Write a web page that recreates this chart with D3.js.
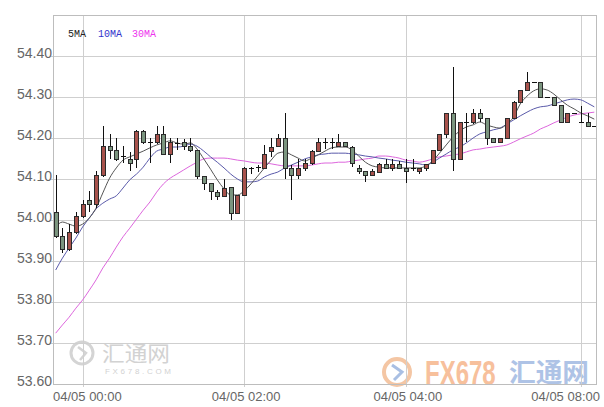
<!DOCTYPE html>
<html><head><meta charset="utf-8">
<script src="https://cdn.jsdelivr.net/npm/d3@7"></script>
<style>body{margin:0;background:#fff}svg{display:block}</style>
</head><body>
<svg id="c" width="604" height="407"></svg>
<script>
// ---- data ----
const openVals = [54.02,53.96,53.93,53.97,54.01,54.05,54.04,54.11,54.18,54.17,
54.155,54.148,54.148,54.218,54.19,54.19,54.21,54.16,54.187,54.19,
54.18,54.17,54.108,54.09,54.069,54.059,54.08,54.018,54.061,54.127,
54.13,54.128,54.169,54.18,54.199,54.128,54.109,54.128,54.138,54.169,
54.19,54.19,54.18,54.19,54.179,54.128,54.12,54.11,54.118,54.137,
54.128,54.137,54.128,54.128,54.12,54.128,54.138,54.171,54.21,54.26,
54.149,54.238,54.238,54.26,54.248,54.20,54.191,54.20,54.248,54.289,
54.318,54.337,54.337,54.299,54.299,54.28,54.238,54.26,54.24,54.238,
54.229];
const highVals = [54.11,53.98,53.99,54.02,54.05,54.07,54.12,54.23,54.21,54.20,
54.18,54.165,54.22,54.22,54.20,54.23,54.23,54.20,54.20,54.198,
54.20,54.17,54.108,54.09,54.073,54.10,54.08,54.061,54.13,54.13,
54.133,54.183,54.20,54.21,54.26,54.135,54.148,54.148,54.17,54.20,
54.20,54.20,54.21,54.19,54.18,54.135,54.12,54.125,54.14,54.149,
54.149,54.145,54.149,54.149,54.128,54.137,54.171,54.21,54.26,54.372,
54.24,54.26,54.27,54.27,54.25,54.20,54.20,54.25,54.29,54.318,
54.36,54.337,54.337,54.299,54.299,54.28,54.26,54.26,54.279,54.26,
54.229];
const lowVals = [53.955,53.92,53.925,53.965,54.005,54.02,54.03,54.105,54.15,54.145,
54.14,54.12,54.128,54.185,54.14,54.185,54.16,54.14,54.17,54.17,
54.165,54.10,54.073,54.05,54.05,54.058,54.00,54.018,54.06,54.112,
54.118,54.125,54.154,54.18,54.10,54.05,54.10,54.12,54.135,54.165,
54.172,54.172,54.178,54.18,54.13,54.112,54.093,54.11,54.115,54.125,
54.12,54.125,54.09,54.12,54.111,54.12,54.137,54.17,54.20,54.12,
54.148,54.19,54.235,54.238,54.183,54.19,54.19,54.20,54.248,54.289,
54.318,54.337,54.299,54.299,54.28,54.238,54.238,54.26,54.238,54.229,
54.229];
const closeVals = [53.96,53.93,53.97,54.01,54.04,54.04,54.11,54.18,54.17,54.148,
54.155,54.138,54.218,54.19,54.19,54.21,54.16,54.19,54.187,54.18,
54.17,54.108,54.09,54.07,54.059,54.079,54.018,54.061,54.128,54.127,
54.13,54.16,54.179,54.199,54.128,54.109,54.128,54.14,54.169,54.19,
54.19,54.19,54.19,54.18,54.138,54.12,54.11,54.12,54.137,54.128,
54.137,54.128,54.12,54.128,54.128,54.137,54.17,54.21,54.26,54.149,
54.238,54.238,54.26,54.248,54.20,54.191,54.20,54.248,54.289,54.318,
54.337,54.337,54.299,54.299,54.28,54.238,54.26,54.26,54.24,54.229,
54.229];
const ma5 = [53.983,53.995,53.990,53.985,53.990,54.005,54.029,54.066,54.102,54.127,
54.146,54.154,54.161,54.168,54.176,54.183,54.188,54.193,54.188,54.185,
54.188,54.173,54.149,54.124,54.098,54.076,54.061,54.061,54.071,54.088,
54.107,54.127,54.146,54.163,54.166,54.159,54.151,54.144,54.151,54.159,
54.168,54.176,54.178,54.178,54.171,54.156,54.141,54.132,54.129,54.127,
54.127,54.127,54.127,54.127,54.127,54.132,54.144,54.163,54.183,54.202,
54.217,54.227,54.232,54.239,54.232,54.227,54.224,54.234,54.251,54.283,
54.302,54.315,54.320,54.317,54.307,54.293,54.280,54.271,54.261,54.254,
54.246];
const ma10 = [53.878,53.907,53.932,53.956,53.983,54.005,54.027,54.041,54.051,54.059,
54.078,54.098,54.112,54.129,54.151,54.168,54.173,54.178,54.178,54.180,
54.185,54.180,54.168,54.154,54.141,54.127,54.112,54.100,54.093,54.093,
54.095,54.105,54.112,54.117,54.127,54.134,54.141,54.149,54.154,54.159,
54.161,54.163,54.163,54.163,54.161,54.159,54.156,54.154,54.151,54.149,
54.146,54.144,54.141,54.139,54.137,54.134,54.141,54.151,54.161,54.171,
54.178,54.188,54.200,54.210,54.215,54.220,54.224,54.234,54.244,54.254,
54.263,54.271,54.276,54.278,54.283,54.288,54.293,54.295,54.293,54.285,
54.276];
const ma30 = [53.724,53.744,53.763,53.785,53.805,53.829,53.854,53.883,53.907,53.934,
53.959,53.980,54.002,54.024,54.044,54.068,54.088,54.102,54.112,54.122,
54.132,54.141,54.149,54.151,54.151,54.151,54.149,54.146,54.144,54.141,
54.139,54.139,54.137,54.134,54.132,54.132,54.132,54.132,54.134,54.137,
54.139,54.139,54.141,54.141,54.144,54.146,54.149,54.151,54.156,54.156,
54.154,54.151,54.146,54.144,54.141,54.144,54.149,54.154,54.156,54.159,
54.161,54.166,54.171,54.173,54.176,54.178,54.180,54.183,54.190,54.198,
54.205,54.212,54.222,54.229,54.237,54.244,54.251,54.256,54.259,54.261,
54.263];
const yTickValues = [53.60,53.70,53.80,53.90,54.00,54.10,54.20,54.30,54.40];
const xTickIndex = [4,28,52,78];
const xTickLabels = ["04/05 00:00","04/05 02:00","04/05 04:00","04/05 08:00"];
const legendNames = ["5MA","10MA","30MA"];

// ---- layout ----
const L = 53, R = 597, T = 15, B = 384;
const svg = d3.select("#c");
const idx = d3.range(openVals.length);
const x = d3.scalePoint().domain(idx).range([L, R]).padding(0.4);
const y = d3.scaleLinear().domain([53.6, 54.5]).range([B, T]);
const px = v => Math.round(v) + 0.5;

// ---- watermarks ----
const wm = svg.append("g");
wm.append("circle").attr("cx",82).attr("cy",353).attr("r",11).attr("fill","none").attr("stroke","#d4d4d4").attr("stroke-width",3);
wm.append("path").attr("d","M78,347 L86,353 L80,360").attr("fill","none").attr("stroke","#d4d4d4").attr("stroke-width",2.5);
wm.append("text").attr("x",102).attr("y",361).attr("font-family","Noto Sans CJK SC").attr("font-size",21).attr("fill","#d2d2d2").attr("textLength",68).attr("lengthAdjust","spacingAndGlyphs").text("汇通网");
wm.append("text").attr("x",105).attr("y",374).attr("font-family","Liberation Sans").attr("font-size",8).attr("fill","#d2d2d2").attr("textLength",66).attr("lengthAdjust","spacing").text("FX678.COM");
wm.append("circle").attr("cx",397).attr("cy",372).attr("r",13).attr("fill","none").attr("stroke","#f4c6a4").attr("stroke-width",4);
wm.append("path").attr("d","M392,365 L402,372 L394,380").attr("fill","none").attr("stroke","#a9bfe3").attr("stroke-width",3);
wm.append("text").attr("transform","translate(425,385) scale(1,1.45)").attr("font-family","Liberation Sans").attr("font-weight","bold").attr("font-size",24).attr("fill","#f7c09c").text("FX678");
wm.append("text").attr("x",509).attr("y",382).attr("font-family","Noto Sans CJK SC").attr("font-weight","bold").attr("font-size",26).attr("fill","#aec3e6").attr("textLength",80).attr("lengthAdjust","spacingAndGlyphs").text("汇通网");

// ---- grid ----
const grid = svg.append("g").attr("stroke","#cfcfcf").attr("stroke-width",1);
grid.selectAll("line.h").data(yTickValues.filter(v => v > 53.6)).join("line")
  .attr("x1",L-3).attr("x2",R).attr("y1",d=>px(y(d))).attr("y2",d=>px(y(d)));
grid.selectAll("line.v").data(xTickIndex).join("line")
  .attr("x1",d=>px(x(d))).attr("x2",d=>px(x(d))).attr("y1",T).attr("y2",B+3);
svg.append("rect").attr("x",L+0.5).attr("y",T+0.5).attr("width",R-L-1).attr("height",B-T)
  .attr("fill","none").attr("stroke","#bdbdbd");

// ---- axes ----
const yAxis = svg.append("g").attr("transform",`translate(${L},0)`)
  .call(d3.axisLeft(y).tickValues(yTickValues).tickFormat(d3.format(".2f")).tickSize(0).tickPadding(1));
yAxis.select(".domain").remove();
yAxis.selectAll("text").attr("font-family","Liberation Sans").attr("font-size",14).attr("fill","#666").attr("dy","0.1em");

const xAxis = svg.append("g");
xAxis.selectAll("text").data(xTickIndex).join("text")
  .attr("x",(d,i)=> i===0 ? L : i===xTickIndex.length-1 ? 600 : x(d)+2)
  .attr("text-anchor",(d,i)=> i===0 ? "start" : i===xTickIndex.length-1 ? "end" : "middle")
  .attr("y",401).attr("font-family","Liberation Sans").attr("font-size",13).attr("fill","#666")
  .text((d,i)=>xTickLabels[i]);

// ---- clip ----
svg.append("clipPath").attr("id","clip").append("rect").attr("x",L+1).attr("y",T+1).attr("width",R-L-2).attr("height",B-T-1);
const plot = svg.append("g").attr("clip-path","url(#clip)");

// ---- MA lines ----
const maSeries = [
  {vals: ma30, color:"#dd66dd"},
  {vals: ma10, color:"#5a5aaa"},
  {vals: ma5,  color:"#555555"}
];
const line = d3.line().x((d,i)=>x(i)).y(d=>y(d)).curve(d3.curveMonotoneX);
maSeries.forEach(s => {
  plot.append("path").attr("d", line(s.vals)).attr("fill","none").attr("stroke", s.color).attr("stroke-width",1);
});

// ---- candles ----
const cg = plot.append("g");
idx.forEach(i => {
  const o = openVals[i], c = closeVals[i], h = highVals[i], l = lowVals[i];
  const cx = Math.round(x(i));
  cg.append("line").attr("x1",cx+0.5).attr("x2",cx+0.5).attr("y1",Math.round(y(h))).attr("y2",Math.round(y(l)))
    .attr("stroke","#111").attr("stroke-width",1);
  if (Math.abs(o - c) < 0.0005) {
    cg.append("line").attr("x1",cx-2).attr("x2",cx+3).attr("y1",px(y(c))).attr("y2",px(y(c)))
      .attr("stroke","#111").attr("stroke-width",1);
  } else {
    const top = Math.round(y(Math.max(o,c))), bot = Math.round(y(Math.min(o,c)));
    cg.append("rect").attr("x",cx-1.5).attr("y",top+0.5).attr("width",4).attr("height",Math.max(1,bot-top))
      .attr("fill", c > o ? "#a8524c" : "#7b957f").attr("stroke","#2a2a2a").attr("stroke-width",1);
  }
});

// ---- legend ----
const legColors = ["#222","#3333cc","#ee33ee"];
const legX = [68,98,132];
svg.append("g").selectAll("text").data(legendNames).join("text")
  .attr("x",(d,i)=>legX[i]).attr("y",37).attr("font-family","Liberation Mono").attr("font-size",10)
  .attr("fill",(d,i)=>legColors[i]).text(d=>d);
</script>
</body></html>
